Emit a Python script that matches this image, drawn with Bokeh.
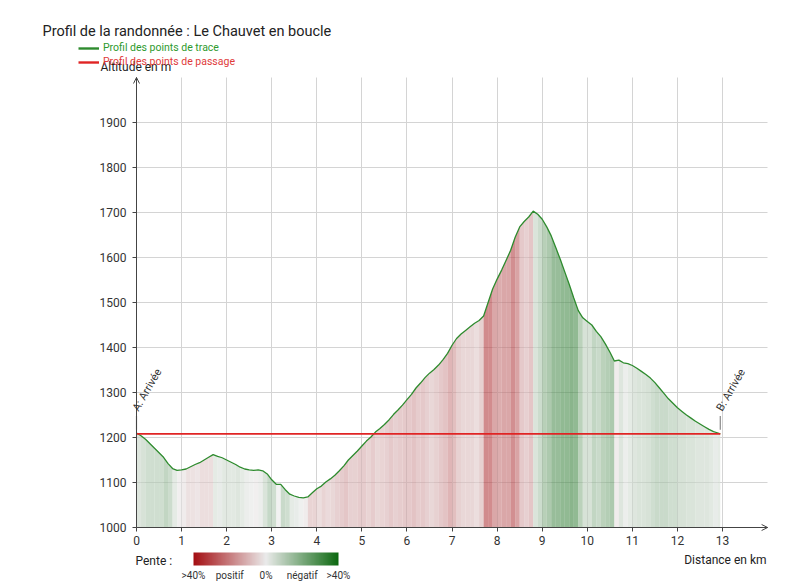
from bokeh.plotting import figure
from bokeh.models import (LinearAxis, FixedTicker, Label, LabelSet, Legend, LegendItem, ColorBar,
                          LinearColorMapper, Arrow, OpenHead, ColumnDataSource, Range1d)
from bokeh.core.properties import value
from bokeh.embed import file_html
from bokeh.resources import INLINE

# ---------------- data ----------------
distance_km = [
    0.0, 0.1, 0.2, 0.3, 0.4, 0.5, 0.6, 0.7, 0.8, 0.9,
    1.0, 1.1, 1.2, 1.3, 1.4, 1.5, 1.6, 1.7, 1.8, 1.9,
    2.0, 2.1, 2.2, 2.3, 2.4, 2.5, 2.6, 2.7, 2.8, 2.9,
    3.0, 3.1, 3.2, 3.3, 3.4, 3.5, 3.6, 3.7, 3.8, 3.9,
    4.0, 4.1, 4.2, 4.3, 4.4, 4.5, 4.6, 4.7, 4.8, 4.9,
    5.0, 5.1, 5.2, 5.3, 5.4, 5.5, 5.6, 5.7, 5.8, 5.9,
    6.0, 6.1, 6.2, 6.3, 6.4, 6.5, 6.6, 6.7, 6.8, 6.9,
    7.0, 7.1, 7.2, 7.3, 7.4, 7.5, 7.6, 7.7, 7.8, 7.9,
    8.0, 8.1, 8.2, 8.3, 8.4, 8.5, 8.6, 8.7, 8.8, 8.9,
    9.0, 9.1, 9.2, 9.3, 9.4, 9.5, 9.6, 9.7, 9.8, 9.9,
    10.0, 10.1, 10.2, 10.3, 10.4, 10.5, 10.6, 10.7, 10.8, 10.9,
    11.0, 11.1, 11.2, 11.3, 11.4, 11.5, 11.6, 11.7, 11.8, 11.9,
    12.0, 12.1, 12.2, 12.3, 12.4, 12.5, 12.6, 12.7, 12.8, 12.9,
    12.95,
]
altitude_m = [
    1210, 1204, 1196, 1186, 1176, 1166, 1156, 1142, 1131, 1127,
    1128, 1130, 1135, 1140, 1144, 1150, 1156, 1162, 1158, 1155,
    1150, 1145, 1140, 1134, 1130, 1128, 1127, 1128, 1126, 1119,
    1106, 1096, 1096, 1084, 1074, 1070, 1067, 1066, 1068, 1077,
    1086, 1092, 1101, 1108, 1116, 1126, 1137, 1150, 1160, 1170,
    1181, 1192, 1201, 1212, 1220, 1229, 1239, 1251, 1261, 1272,
    1284, 1296, 1310, 1321, 1333, 1343, 1351, 1361, 1373, 1387,
    1405, 1420, 1430, 1438, 1446, 1454, 1460, 1470, 1500, 1530,
    1552, 1572, 1594, 1616, 1645, 1668, 1680, 1690, 1703, 1696,
    1685, 1668, 1648, 1622, 1596, 1568, 1540, 1510, 1482, 1466,
    1458, 1450, 1436, 1424, 1408, 1390, 1370, 1372, 1366, 1364,
    1360, 1354, 1347, 1340, 1332, 1322, 1310, 1298, 1286, 1276,
    1266, 1258, 1250, 1243, 1236, 1230, 1224, 1218, 1213, 1210,
    1208,
]
waypoint_names = ["A: Arrivée", "B: Arrivée"]
waypoint_km = [0.0, 12.95]
waypoint_alt = [1208, 1208]

x_ticks = [0, 1, 2, 3, 4, 5, 6, 7, 8, 9, 10, 11, 12, 13]
y_ticks = [1000, 1100, 1200, 1300, 1400, 1500, 1600, 1700, 1800, 1900]
x_axis_end = 14
y_axis_end = 2000
pente_ticks = [-40, -20, 0, 20, 40]
pente_labels = [">40%", "positif", "0%", "négatif", ">40%"]

title_text = "Profil de la randonnée : Le Chauvet en boucle"
legend_trace = "Profil des points de trace"
legend_passage = "Profil des points de passage"
y_title = "Altitude en m"
x_title = "Distance en km"
pente_title = "Pente :"

# ---------------- layout / styles ----------------
W, H = 796, 586
X0_PX, Y0_PX = 136, 527          # pixel position of (0 km, 1000 m)
PX_PER_KM, PX_PER_M = 45.08, 0.45
FONT = "Roboto"
TEXT = "#222222"
GRID = "#d4d4d4"
GREEN_LINE = "#2e8b2e"
RED_LINE = "#e02424"
RED_END = (164, 14, 18)
MID = (234, 234, 234)
GREEN_END = (12, 104, 16)


def sy(py):  # page pixel (from top) -> screen units (from bottom)
    return H - py


def lerp(c1, c2, t):
    return "#%02x%02x%02x" % tuple(int(round(a + (b - a) * t)) for a, b in zip(c1, c2))


palette = [lerp(RED_END, MID, i / 127) for i in range(128)] + \
          [lerp(MID, GREEN_END, i / 127) for i in range(128)]
mapper = LinearColorMapper(palette=palette, low=pente_ticks[0], high=pente_ticks[-1])

# stripes under the profile, one per segment, coloured by slope
xs, ys, inv_pente = [], [], []
for i in range(len(distance_km) - 1):
    d0, d1 = distance_km[i], distance_km[i + 1]
    a0, a1 = altitude_m[i], altitude_m[i + 1]
    xs.append([d0, d0, d1, d1])
    ys.append([y_ticks[0], a0, a1, y_ticks[0]])
    pente = (a1 - a0) / ((d1 - d0) * 1000.0) * 100.0
    inv_pente.append(-pente)
stripes = ColumnDataSource(dict(xs=xs, ys=ys, inv_pente=inv_pente))

x_range = Range1d(-X0_PX / PX_PER_KM, (W - X0_PX) / PX_PER_KM)
y_range = Range1d(y_ticks[0] - (H - Y0_PX) / PX_PER_M, y_ticks[0] + Y0_PX / PX_PER_M)

p = figure(width=W, height=H, x_range=x_range, y_range=y_range,
           output_backend="svg", toolbar_location=None, x_axis_type=None, y_axis_type=None,
           min_border=0)
p.outline_line_color = None
p.background_fill_color = "white"
p.border_fill_color = "white"

# grid lines, drawn as long axis ticks under the glyphs
vgrid = LinearAxis(fixed_location=y_ticks[0], ticker=FixedTicker(ticks=x_ticks[1:]),
                   bounds=(0, x_axis_end))
hgrid = LinearAxis(fixed_location=0, ticker=FixedTicker(ticks=y_ticks[1:]),
                   bounds=(y_ticks[0], y_axis_end))
vgrid.major_tick_out = int(round((y_axis_end - y_ticks[0]) * PX_PER_M))
hgrid.major_tick_out = int(round(x_axis_end * PX_PER_KM))
for g in (vgrid, hgrid):
    g.level = "underlay"
    g.axis_line_color = None
    g.major_tick_in = 0
    g.major_tick_line_color = GRID
    g.minor_tick_line_color = None
    g.major_label_text_alpha = 0
    g.major_label_text_font_size = "1px"
p.add_layout(vgrid, "above")
p.add_layout(hgrid, "right")

p.patches("xs", "ys", source=stripes, fill_color={"field": "inv_pente", "transform": mapper},
          fill_alpha=0.62, line_color=None)

p.line(distance_km, altitude_m, line_color=GREEN_LINE, line_width=1.3)
p.line(waypoint_km, waypoint_alt, line_color=RED_LINE, line_width=1.7)

# legend swatches: a one-point line draws nothing in the plot but gives a thicker key
trace_key = p.line(distance_km[:1], altitude_m[:1], line_color=GREEN_LINE, line_width=2.4)
passage_key = p.line(waypoint_km[:1], waypoint_alt[:1], line_color=RED_LINE, line_width=2.4)

# main axes
xaxis = LinearAxis(fixed_location=y_ticks[0], ticker=FixedTicker(ticks=x_ticks), bounds=(0, x_axis_end))
yaxis = LinearAxis(fixed_location=0, ticker=FixedTicker(ticks=y_ticks), bounds=(y_ticks[0], y_axis_end))
for ax in (xaxis, yaxis):
    ax.axis_line_color = "#444444"
    ax.axis_line_width = 1
    ax.major_tick_in = 0
    ax.major_tick_out = 4
    ax.major_tick_line_color = "#444444"
    ax.minor_tick_line_color = None
    ax.major_label_text_font = FONT
    ax.major_label_text_font_size = "12px"
    ax.major_label_text_color = "#333333"
xaxis.major_label_standoff = 4
yaxis.major_label_standoff = 6
p.add_layout(xaxis, "below")
p.add_layout(yaxis, "left")

# axis arrow heads
p.add_layout(Arrow(end=OpenHead(size=6, line_color="#444444", line_width=1),
                   x_start=0, y_start=y_axis_end - 5, x_end=0, y_end=y_axis_end,
                   line_color="#444444", line_width=1))
p.add_layout(Arrow(end=OpenHead(size=6, line_color="#444444", line_width=1),
                   x_start=x_axis_end - 0.1, y_start=y_ticks[0], x_end=x_axis_end, y_end=y_ticks[0],
                   line_color="#444444", line_width=1))

# waypoint markers and labels
wp_src = ColumnDataSource(dict(x=waypoint_km, y=waypoint_alt, name=waypoint_names,
                               y0=[a + 9 for a in waypoint_alt], y1=[a + 40 for a in waypoint_alt]))
p.segment(x0="x", y0="y0", x1="x", y1="y1", source=wp_src, line_color="#888888", line_width=1.2)
p.add_layout(LabelSet(x="x", y="y", text="name", source=wp_src, angle=60, angle_units="deg",
                      x_offset=2, y_offset=22, text_font=value(FONT), text_font_size="11px",
                      text_color="#333333", text_align="left", text_baseline="alphabetic"))

# legends
leg1 = Legend(items=[LegendItem(label=legend_trace, renderers=[trace_key])], location=(78, sy(54)))
leg2 = Legend(items=[LegendItem(label=legend_passage, renderers=[passage_key])], location=(78, sy(68)))
for lg, col in ((leg1, "#2e9a2e"), (leg2, "#e03a3a")):
    lg.label_text_color = col
    lg.label_text_font = FONT
    lg.label_text_font_size = "10.5px"
    lg.glyph_width = 21
    lg.glyph_height = 12
    lg.label_height = 12
    lg.label_standoff = 4
    lg.padding = 0
    lg.margin = 0
    lg.spacing = 0
    lg.background_fill_alpha = 0
    lg.border_line_color = None
    p.add_layout(lg)

# texts
p.add_layout(Label(x=42, y=sy(31), x_units="screen", y_units="screen", text=title_text,
                   text_font=FONT, text_font_size="14.5px", text_color=TEXT, text_baseline="middle"))
p.add_layout(Label(x=100, y=sy(66), x_units="screen", y_units="screen", text=y_title,
                   text_font=FONT, text_font_size="12px", text_color=TEXT, text_baseline="middle"))
p.add_layout(Label(x=766, y=sy(559), x_units="screen", y_units="screen", text=x_title,
                   text_font=FONT, text_font_size="12px", text_color=TEXT,
                   text_baseline="middle", text_align="right"))
p.add_layout(Label(x=135, y=sy(560), x_units="screen", y_units="screen", text=pente_title,
                   text_font=FONT, text_font_size="12px", text_color=TEXT, text_baseline="middle"))

cb = ColorBar(color_mapper=mapper, orientation="horizontal", width=145, height=13,
              location=(193, sy(583)), padding=0, margin=0,
              ticker=FixedTicker(ticks=pente_ticks),
              major_label_overrides={t: l for t, l in zip(pente_ticks, pente_labels)},
              major_tick_line_color=None, minor_tick_line_color=None, bar_line_color=None,
              major_label_text_font=FONT, major_label_text_font_size="10px",
              major_label_text_color="#333333", label_standoff=4,
              background_fill_alpha=0, border_line_color=None)
p.add_layout(cb)

open("out.html", "w").write(file_html(p, INLINE))
